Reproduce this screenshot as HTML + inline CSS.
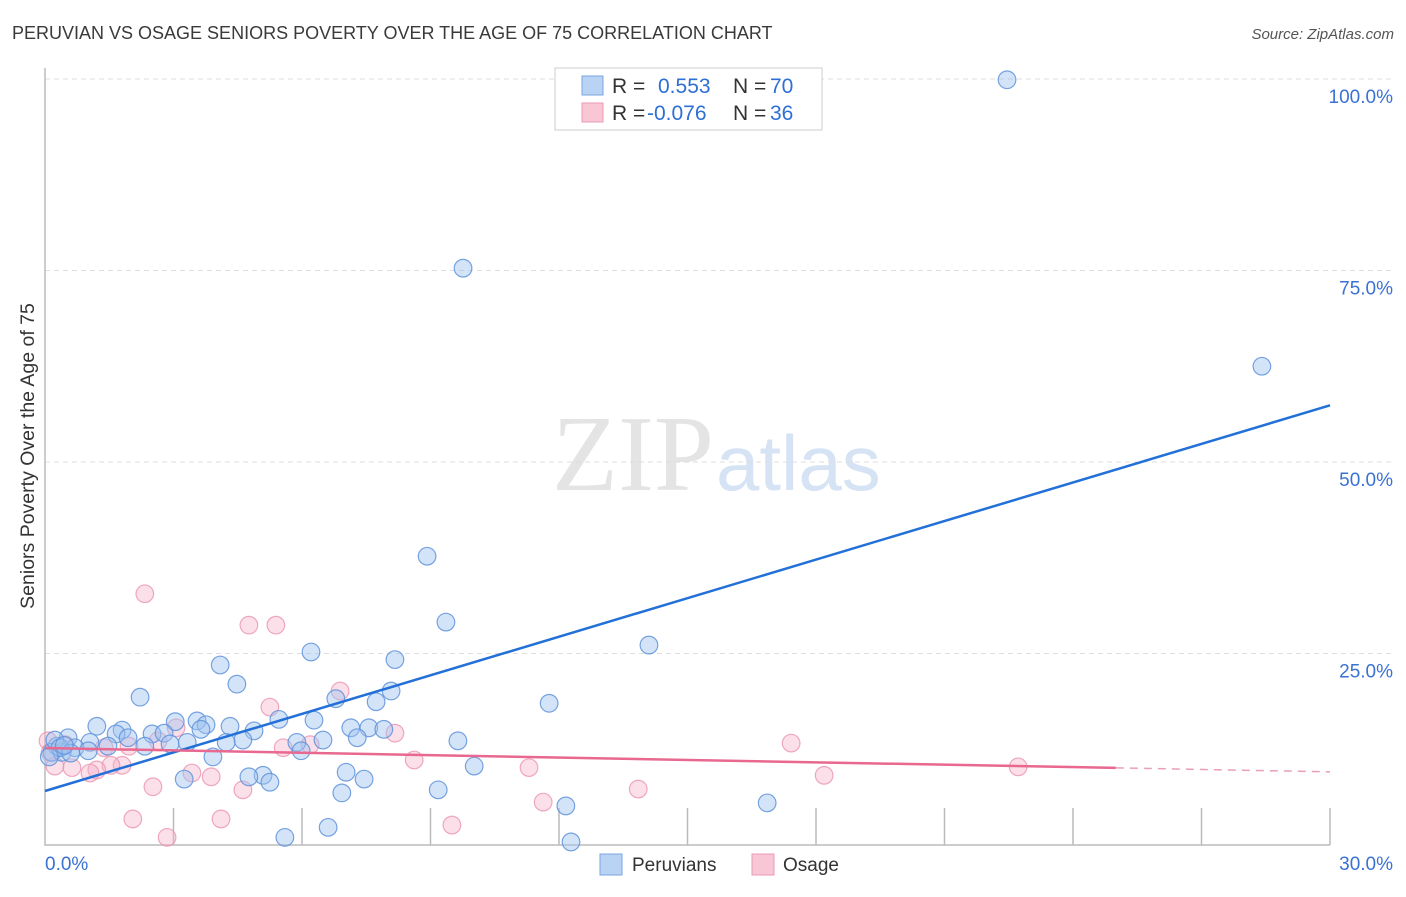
<!DOCTYPE html>
<html><head><meta charset="utf-8"><style>
body{margin:0;background:#fff;font-family:"Liberation Sans",sans-serif;}
</style></head><body>
<svg id="chart" width="1406" height="892" xmlns="http://www.w3.org/2000/svg">
<text x="12" y="39" font-size="18" fill="#3a3a3a">PERUVIAN VS OSAGE SENIORS POVERTY OVER THE AGE OF 75 CORRELATION CHART</text>
<text x="1394" y="39" font-size="15" fill="#555" text-anchor="end" font-style="italic">Source: ZipAtlas.com</text>
<text x="714" y="490" font-size="108" fill="#e4e4e4" text-anchor="end" font-family="Liberation Serif,serif">ZIP</text>
<text x="716" y="490" font-size="78" fill="#d6e3f5">atlas</text>
<g id="grid"></g><g id="axes"></g><g id="pts"></g><g id="lines"></g>
<text transform="translate(34,456) rotate(-90)" font-size="19.5" fill="#333" text-anchor="middle">Seniors Poverty Over the Age of 75</text>
<g>
<rect x="555" y="68" width="267" height="62" fill="#fff" stroke="#ccc"/>
<rect x="582" y="76" width="21" height="19" fill="#b8d3f4" stroke="#7aa6e0"/>
<rect x="582" y="103" width="21" height="19" fill="#f9c6d6" stroke="#ec9ab5"/>
<text x="612" y="93" font-size="21" fill="#333">R = </text><text x="658" y="93" font-size="21" fill="#2e6fd6">0.553</text>
<text x="733" y="93" font-size="21" fill="#333">N = </text><text x="770" y="93" font-size="21" fill="#2e6fd6">70</text>
<text x="612" y="120" font-size="21" fill="#333">R = </text><text x="647" y="120" font-size="21" fill="#2e6fd6">-0.076</text>
<text x="733" y="120" font-size="21" fill="#333">N = </text><text x="770" y="120" font-size="21" fill="#2e6fd6">36</text>
</g>
<g>
<rect x="600" y="854" width="22" height="21" fill="#b8d3f4" stroke="#7aa6e0"/>
<text x="632" y="871" font-size="19" fill="#333">Peruvians</text>
<rect x="752" y="854" width="22" height="21" fill="#f9c6d6" stroke="#ec9ab5"/>
<text x="783" y="871" font-size="19" fill="#333">Osage</text>
</g>
</svg>
<script>
const yTicks=[25,50,75,100];
const yTickLabels=["25.0%","50.0%","75.0%","100.0%"];
const xEndLabels=["0.0%","30.0%"];
const blueX=[22.46,9.76,28.41,8.92,9.36,14.10,6.21,8.17,4.09,4.48,8.08,2.22,6.79,7.73,11.77,5.46,6.28,3.55,3.04,1.21,3.76,4.32,1.80,7.14,7.56,7.91,4.88,2.50,1.66,2.78,3.64,7.29,6.49,9.64,5.88,4.62,4.23,3.32,2.92,1.94,1.47,1.05,0.54,0.28,0.70,0.16,0.40,1.01,2.33,5.98,3.92,10.02,7.03,5.09,4.76,3.25,5.25,7.45,9.18,6.93,12.16,16.86,6.61,5.60,12.28,0.23,0.35,0.10,0.60,0.45];
const blueY=[99.9,75.3,62.5,37.7,29.1,26.1,25.2,24.2,23.5,21.0,20.1,19.3,19.1,18.7,18.5,16.4,16.3,16.2,16.1,15.5,15.7,15.5,15.0,15.3,15.3,15.1,14.9,14.5,14.5,14.6,15.1,14.0,13.7,13.6,13.4,13.7,13.4,13.4,13.2,14.0,12.9,13.4,14.0,12.9,12.7,12.1,12.1,12.3,12.9,12.3,11.5,10.3,9.5,9.1,8.9,8.6,8.2,8.6,7.2,6.8,5.1,5.5,2.3,1.0,0.4,13.7,12.7,11.5,12.0,13.0];
const pinkX=[2.33,4.76,5.39,6.89,5.25,8.17,17.42,3.06,2.64,1.96,8.62,22.72,11.30,18.19,3.43,3.88,1.80,1.54,1.21,0.63,0.23,1.05,2.52,4.62,13.85,11.63,2.05,4.11,9.50,2.85,0.07,0.12,0.47,1.38,6.19,5.56];
const pinkY=[32.8,28.7,28.7,20.1,18.0,14.6,13.3,15.3,13.6,12.9,11.1,10.2,10.1,9.1,9.4,8.9,10.4,10.4,9.8,10.1,10.3,9.4,7.6,7.2,7.3,5.6,3.4,3.4,2.6,1.0,13.6,12.1,13.1,12.7,13.1,12.7];
const blueTrend=[7.05,57.4];
const pinkTrend=[12.66,9.55];
const NS="http://www.w3.org/2000/svg";
const X=v=>45+v*1285/30, Y=v=>845-v*7.66;
function mk(p,t,a){const e=document.createElementNS(NS,t);for(const k in a)e.setAttribute(k,a[k]);document.getElementById(p).appendChild(e);return e;}
yTicks.forEach((t,i)=>{
 const l=mk('grid','line',{x1:45,x2:1392,y1:Y(t),y2:Y(t),stroke:'#ddd','stroke-dasharray':'5,4'});
 
 
 const tx=mk('grid','text',{x:1393,y:Y(t)+24,'font-size':19,fill:'#3a72d4','text-anchor':'end'});
 tx.textContent=yTickLabels[i];
 
 
});
const ax=mk('axes','path',{d:'M45,68V845H1330',fill:'none',stroke:'#bbb','stroke-width':1.5});


for(let i=1;i<=10;i++){const t=mk('axes','line',{x1:X(i*3),x2:X(i*3),y1:808,y2:845,stroke:'#bbb','stroke-width':1.5});
 
 }
const x0=mk('axes','text',{x:45,y:870,'font-size':19,fill:'#3a72d4'});x0.textContent=xEndLabels[0];


const x1=mk('axes','text',{x:1393,y:870,'font-size':19,fill:'#3a72d4','text-anchor':'end'});x1.textContent=xEndLabels[1];


pinkX.forEach((v,i)=>{const c=mk('pts','circle',{cx:X(v),cy:Y(pinkY[i]),r:8.8,fill:'rgba(246,176,200,0.4)',stroke:'rgba(235,147,177,0.8)','stroke-width':1.2});
 
 });
blueX.forEach((v,i)=>{const c=mk('pts','circle',{cx:X(v),cy:Y(blueY[i]),r:8.8,fill:'rgba(160,196,240,0.45)',stroke:'rgba(95,147,218,0.85)','stroke-width':1.2});
 
 });
const bl=mk('lines','line',{x1:X(0),y1:Y(blueTrend[0]),x2:X(30),y2:Y(blueTrend[1]),stroke:'#2270d8','stroke-width':2.5});


const pm=pinkTrend[0]+(pinkTrend[1]-pinkTrend[0])*25/30;
const pl=mk('lines','line',{x1:X(0),y1:Y(pinkTrend[0]),x2:X(25),y2:Y(pm),stroke:'#e8688f','stroke-width':2.5});


const pd=mk('lines','line',{x1:X(25),y1:Y(pm),x2:X(30),y2:Y(pinkTrend[1]),stroke:'#e8a0b8','stroke-width':1.5,'stroke-dasharray':'8,6'});


</script>
</body></html>
